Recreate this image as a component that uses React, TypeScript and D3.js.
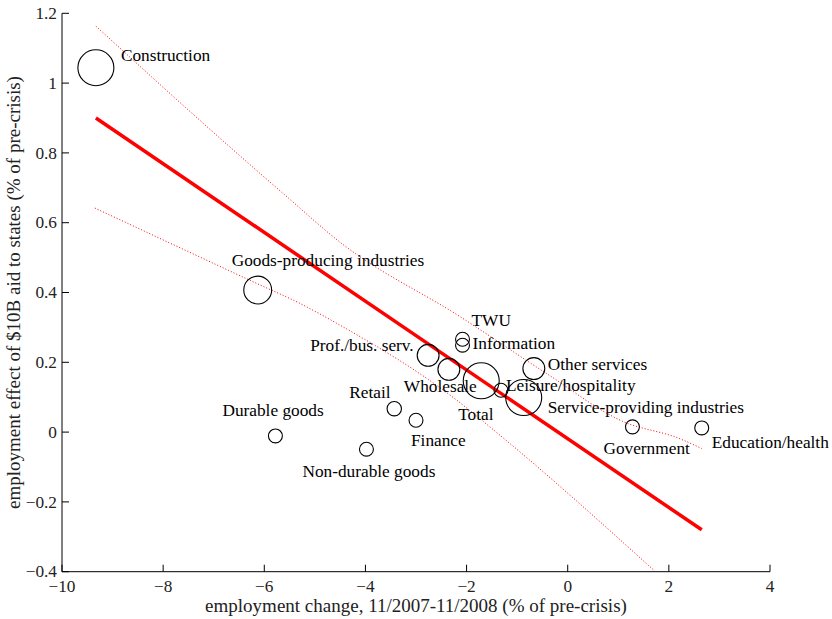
import React from "react";
import * as d3 from "d3";

// sectors and their values
const sectors = [
  "Construction",
  "Goods-producing industries",
  "Durable goods",
  "Non-durable goods",
  "Retail",
  "Finance",
  "Prof./bus. serv.",
  "Wholesale",
  "TWU",
  "Information",
  "Total",
  "Leisure/hospitality",
  "Service-providing industries",
  "Other services",
  "Government",
  "Education/health",
];
const empChange = [
  -9.33, -6.13, -5.78, -3.98, -3.43, -3.0, -2.76, -2.35, -2.08, -2.08, -1.71,
  -1.32, -0.87, -0.67, 1.28, 2.65,
];
const aidEffect = [
  1.044, 0.407, -0.011, -0.049, 0.067, 0.034, 0.22, 0.18, 0.266, 0.249, 0.147,
  0.12, 0.099, 0.182, 0.015, 0.012,
];
const weights = [
  1.0, 0.6, 0.15, 0.15, 0.16, 0.15, 0.37, 0.37, 0.15, 0.15, 1.0, 0.15, 1.0,
  0.37, 0.15, 0.15,
];

// fitted line and confidence bands
const fitX = [-9.33, 2.65];
const fitY = [0.9, -0.28];
const upperBand = [
  [-9.33, 1.163],
  [-6.61, 0.808],
  [-5.55, 0.674],
  [-4.51, 0.545],
  [-2.12, 0.33],
  [-0.42, 0.168],
  [1.1, 0.03],
  [2.2, -0.018],
  [2.65, -0.047],
];
const lowerBand = [
  [-9.35, 0.642],
  [-6.15, 0.426],
  [-5.3, 0.369],
  [-4.51, 0.307],
  [-2.2, 0.092],
  [-1.54, 0.015],
  [1.72, -0.398],
];

const xTicks = [-10, -8, -6, -4, -2, 0, 2, 4];
const yTicks = [-0.4, -0.2, 0, 0.2, 0.4, 0.6, 0.8, 1, 1.2];

// label placement relative to the circle centre (px)
const labelOffset: Record<string, [number, number]> = {
  Construction: [25, -7],
  "Goods-producing industries": [-26, -24],
  "Durable goods": [-53, -20],
  "Non-durable goods": [-64, 28],
  Retail: [-45, -11],
  Finance: [-5, 26],
  "Prof./bus. serv.": [-118, -4],
  Wholesale: [-45, 23],
  TWU: [9, -13],
  Information: [10, 4],
  Total: [-23, 39],
  "Leisure/hospitality": [5, 1],
  "Service-providing industries": [24, 15],
  "Other services": [14, 1],
  Government: [-29, 27],
  "Education/health": [10, 20],
};

const FONT = "'Liberation Serif', 'Times New Roman', serif";

export default function App() {
  const width = 832;
  const height = 619;
  const left = 62;
  const right = 770;
  const top = 13.3;
  const bottom = 571.7;

  const x = d3.scaleLinear().domain([-10, 4]).range([left, right]);
  const y = d3.scaleLinear().domain([-0.4, 1.2]).range([bottom, top]);
  const r = d3.scaleSqrt().domain([0, 1]).range([0, 18]);
  const fmt = d3.format("~g");

  const line = d3
    .line<number[]>()
    .x((d) => x(d[0]))
    .y((d) => y(d[1]))
    .curve(d3.curveMonotoneX);

  const points = sectors.map((name, i) => ({
    name,
    cx: x(empChange[i]),
    cy: y(aidEffect[i]),
    rad: r(weights[i]),
  }));

  return (
    <svg
      width={width}
      height={height}
      style={{ position: "absolute", left: 0, top: 0, background: "#fff" }}
      fontFamily={FONT}
    >
      <defs>
        <clipPath id="plotArea">
          <rect x={left} y={top} width={right - left} height={bottom - top} />
        </clipPath>
      </defs>

      <g clipPath="url(#plotArea)">
        <path
          d={line(upperBand) || ""}
          fill="none"
          stroke="#ff0000"
          strokeWidth={1}
          strokeDasharray="1,2"
        />
        <path
          d={line(lowerBand) || ""}
          fill="none"
          stroke="#ff0000"
          strokeWidth={1}
          strokeDasharray="1,2"
        />
        <line
          x1={x(fitX[0])}
          y1={y(fitY[0])}
          x2={x(fitX[1])}
          y2={y(fitY[1])}
          stroke="#ff0000"
          strokeWidth={3.5}
        />
      </g>

      {points.map((p) => (
        <circle
          key={p.name}
          cx={p.cx}
          cy={p.cy}
          r={p.rad}
          fill="none"
          stroke="#000"
          strokeWidth={1.1}
        />
      ))}

      {points.map((p) => {
        const off = labelOffset[p.name];
        return (
          <text
            key={p.name}
            x={p.cx + off[0]}
            y={p.cy + off[1]}
            fontSize={17.3}
            fill="#000"
          >
            {p.name}
          </text>
        );
      })}

      {/* axes */}
      <line x1={left} x2={left} y1={top} y2={bottom} stroke="#000" strokeWidth={1} />
      <line x1={left} x2={right} y1={bottom} y2={bottom} stroke="#000" strokeWidth={1} />

      {xTicks.map((t) => (
        <g key={"x" + t}>
          <line x1={x(t)} x2={x(t)} y1={bottom} y2={bottom - 7} stroke="#000" />
          <text
            x={x(t)}
            y={bottom + 20}
            textAnchor="middle"
            fontSize={17.3}
            fill="#222"
          >
            {fmt(t)}
          </text>
        </g>
      ))}

      {yTicks.map((t) => (
        <g key={"y" + t}>
          <line x1={left} x2={left + 7} y1={y(t)} y2={y(t)} stroke="#000" />
          <text
            x={left - 5}
            y={y(t) + 5.7}
            textAnchor="end"
            fontSize={17.3}
            fill="#222"
          >
            {fmt(t)}
          </text>
        </g>
      ))}

      <text
        x={(left + right) / 2}
        y={612}
        textAnchor="middle"
        fontSize={19}
        fill="#222"
      >
        employment change, 11/2007-11/2008 (% of pre-crisis)
      </text>
      <text
        transform={`translate(20, ${(top + bottom) / 2}) rotate(-90)`}
        textAnchor="middle"
        fontSize={19}
        fill="#222"
      >
        employment effect of $10B aid to states (% of pre-crisis)
      </text>
    </svg>
  );
}
